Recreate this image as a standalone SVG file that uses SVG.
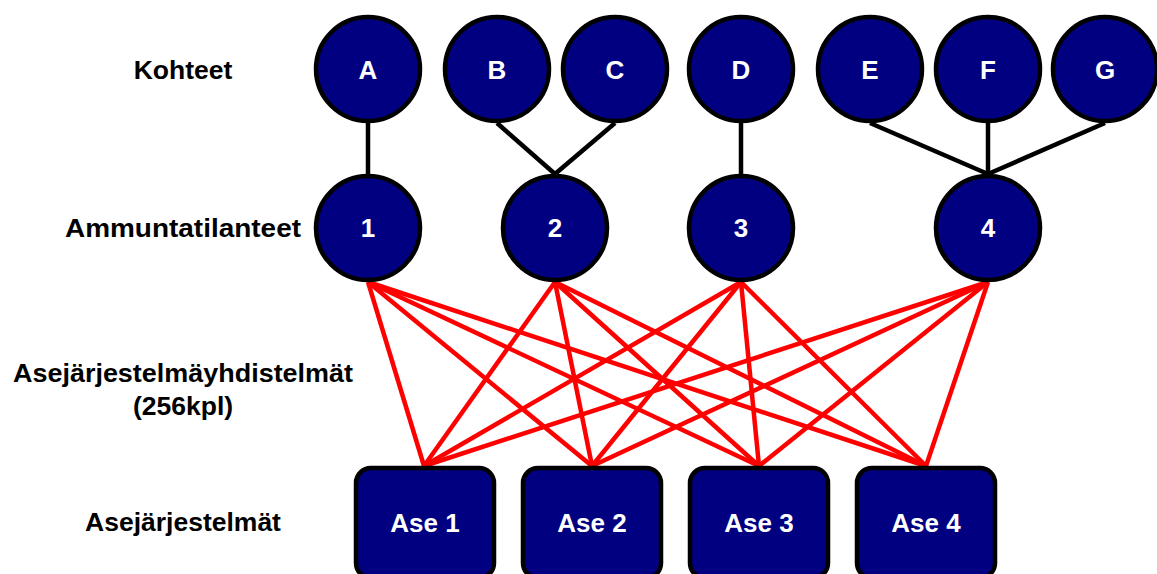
<svg xmlns="http://www.w3.org/2000/svg" width="1157" height="574" viewBox="0 0 1157 574">
<style>
.n{fill:#000080;stroke:#000;stroke-width:4.5}
.t{font-family:"Liberation Sans",Arial,sans-serif;font-weight:bold;font-size:26px;fill:#fff;text-anchor:middle}
.l{font-family:"Liberation Sans",Arial,sans-serif;font-weight:bold;font-size:26.5px;fill:#000;text-anchor:middle}
.b{stroke:#000;stroke-width:4.5;fill:none}
.r{stroke:#f00;stroke-width:4.5;fill:none}
</style>
<rect width="1157" height="574" fill="#fff"/>
<g id="labels">
<text class="l" x="183" y="79">Kohteet</text>
<text class="l" x="183" y="237" textLength="236" lengthAdjust="spacingAndGlyphs">Ammuntatilanteet</text>
<text class="l" x="183" y="382" textLength="340" lengthAdjust="spacingAndGlyphs">Asejärjestelmäyhdistelmät</text>
<text class="l" x="183" y="415">(256kpl)</text>
<text class="l" x="183" y="531">Asejärjestelmät</text>
</g>
<g id="connectors">
<line class="b" x1="368" y1="123" x2="368" y2="174"/>
<line class="b" x1="497" y1="123" x2="555" y2="174"/>
<line class="b" x1="615" y1="123" x2="555" y2="174"/>
<line class="b" x1="741" y1="123" x2="741" y2="174"/>
<line class="b" x1="870" y1="123" x2="988" y2="174"/>
<line class="b" x1="988" y1="123" x2="988" y2="174"/>
<line class="b" x1="1105" y1="123" x2="988" y2="174"/>
<g class="r">
<line x1="368" y1="282" x2="424" y2="466"/><line x1="368" y1="282" x2="592" y2="466"/><line x1="368" y1="282" x2="759" y2="466"/><line x1="368" y1="282" x2="926" y2="466"/>
<line x1="555" y1="282" x2="424" y2="466"/><line x1="555" y1="282" x2="592" y2="466"/><line x1="555" y1="282" x2="759" y2="466"/><line x1="555" y1="282" x2="926" y2="466"/>
<line x1="741" y1="282" x2="424" y2="466"/><line x1="741" y1="282" x2="592" y2="466"/><line x1="741" y1="282" x2="759" y2="466"/><line x1="741" y1="282" x2="926" y2="466"/>
<line x1="988" y1="282" x2="424" y2="466"/><line x1="988" y1="282" x2="592" y2="466"/><line x1="988" y1="282" x2="759" y2="466"/><line x1="988" y1="282" x2="926" y2="466"/>
</g>
</g>
<g id="A"><circle class="n" cx="368" cy="69" r="52"/><text class="t" x="368" y="79">A</text></g>
<g id="B"><circle class="n" cx="497" cy="69" r="52"/><text class="t" x="497" y="79">B</text></g>
<g id="C"><circle class="n" cx="615" cy="69" r="52"/><text class="t" x="615" y="79">C</text></g>
<g id="D"><circle class="n" cx="741" cy="69" r="52"/><text class="t" x="741" y="79">D</text></g>
<g id="E"><circle class="n" cx="870" cy="69" r="52"/><text class="t" x="870" y="79">E</text></g>
<g id="F"><circle class="n" cx="988" cy="69" r="52"/><text class="t" x="988" y="79">F</text></g>
<g id="G"><circle class="n" cx="1105" cy="69" r="52"/><text class="t" x="1105" y="79">G</text></g>
<g id="s1"><circle class="n" cx="368" cy="228" r="52"/><text class="t" x="368" y="237">1</text></g>
<g id="s2"><circle class="n" cx="555" cy="228" r="52"/><text class="t" x="555" y="237">2</text></g>
<g id="s3"><circle class="n" cx="741" cy="228" r="52"/><text class="t" x="741" y="237">3</text></g>
<g id="s4"><circle class="n" cx="988" cy="228" r="52"/><text class="t" x="988" y="237">4</text></g>
<g id="ase1"><rect class="n" x="356" y="468" width="138" height="110" rx="15"/><text class="t" x="425" y="532">Ase 1</text></g>
<g id="ase2"><rect class="n" x="523" y="468" width="138" height="110" rx="15"/><text class="t" x="592" y="532">Ase 2</text></g>
<g id="ase3"><rect class="n" x="690" y="468" width="138" height="110" rx="15"/><text class="t" x="759" y="532">Ase 3</text></g>
<g id="ase4"><rect class="n" x="857" y="468" width="138" height="110" rx="15"/><text class="t" x="926" y="532">Ase 4</text></g>
</svg>
